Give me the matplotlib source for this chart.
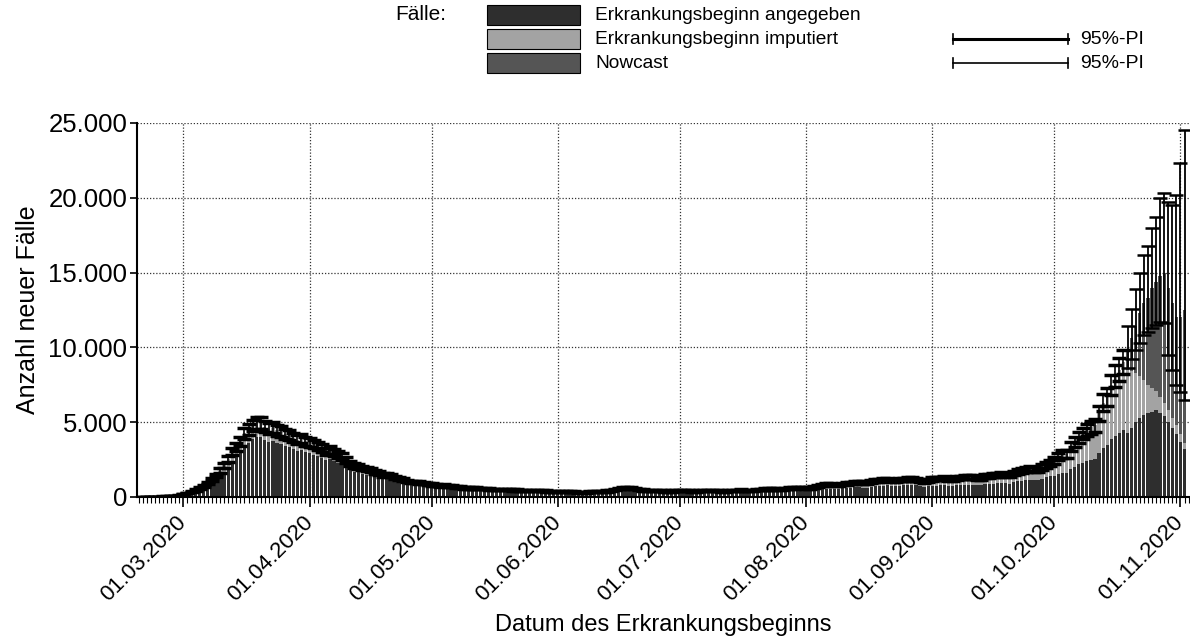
import numpy as np
import pandas as pd
import matplotlib
matplotlib.use("Agg")
import matplotlib.pyplot as plt
import matplotlib.dates as mdates
from matplotlib.patches import Rectangle
from matplotlib.lines import Line2D
from matplotlib.ticker import FuncFormatter

plt.rcParams['font.family'] = ['Liberation Sans', 'DejaVu Sans']

# Tage mit Erkrankungsbeginn 20.02.2020 - 02.11.2020
datum = pd.date_range("2020-02-20", "2020-11-02", freq="D")

# Erkrankungsbeginn angegeben (je Tag)
angegeben = [
    # Feb 20-29
    5, 8, 10, 12, 15, 20, 25, 35, 45, 60,
    # Mar
    140, 190, 260, 340, 440, 560, 700, 890, 1100, 1360, 1640, 2000, 2380, 2650, 2960, 3400,
    3640, 3850, 4000, 4020, 3780, 3670, 3740, 3590, 3520, 3400, 3330, 3180, 3070, 3140, 2990,
    # Apr
    2920, 2840, 2720, 2600, 2440, 2520, 2400, 2280, 2160, 1960, 1800, 1680, 1640, 1560, 1500,
    1440, 1360, 1260, 1180, 1200, 1140, 1060, 1000, 940, 860, 800, 810, 780, 740, 700,
    # Mai
    600, 570, 540, 560, 530, 520, 500, 470, 440, 420, 440, 430, 420, 400, 390, 370,
    350, 370, 360, 350, 340, 330, 320, 300, 320, 310, 300, 290, 290, 270, 260,
    # Jun
    250, 260, 250, 240, 240, 220, 210, 230, 240, 240, 250, 260, 280, 290, 340,
    400, 450, 460, 430, 400, 350, 330, 310, 300, 290, 280, 280, 260, 280, 280,
    # Jul
    290, 290, 290, 270, 270, 290, 290, 300, 290, 290, 270, 270, 290, 300, 310, 310,
    310, 290, 290, 330, 350, 360, 370, 370, 350, 350, 380, 410, 420, 430, 430,
    # Aug
    410, 400, 460, 500, 530, 550, 560, 540, 530, 580, 610, 630, 650, 660, 630, 620,
    690, 730, 750, 760, 770, 740, 710, 760, 780, 790, 790, 780, 740, 690, 750,
    # Sep
    740, 760, 780, 780, 740, 710, 780, 810, 820, 820, 830, 790, 780, 860, 880,
    900, 920, 940, 920, 900, 1000, 1050, 1090, 1120, 1160, 1140, 1110, 1230, 1320, 1380,
    # Okt 1-18
    1400, 1520, 1600, 1620, 1850, 2030, 2180, 2300, 2420, 2500, 2560, 2950, 3300, 3480,
    3850, 4100, 4250, 4450,
    # Okt 19 - Nov 2
    4300, 4600, 5000, 5300, 5500, 5600, 5700, 5800, 5600, 5400, 5000, 4600, 4200, 3700, 3200,
]

# Erkrankungsbeginn imputiert
imputiert = [
    3, 4, 5, 6, 8, 10, 12, 15, 20, 25,
    60, 80, 100, 130, 160, 200, 240, 290, 350, 410, 480, 560, 640, 700, 770, 850,
    890, 930, 950, 950, 910, 880, 900, 870, 850, 830, 810, 780, 750, 770, 740,
    730, 710, 680, 650, 610, 630, 600, 570, 540, 490, 450, 420, 410, 390, 380,
    360, 340, 320, 300, 300, 290, 270, 260, 240, 220, 200, 210, 200, 190, 180,
    240, 230, 220, 220, 210, 200, 190, 190, 180, 170, 170, 170, 160, 160, 150, 140,
    140, 140, 140, 140, 130, 130, 120, 120, 120, 120, 120, 120, 110, 110, 100,
    100, 110, 110, 110, 100, 100, 90, 100, 100, 110, 110, 120, 120, 130, 140,
    160, 170, 180, 170, 160, 150, 140, 140, 140, 130, 130, 120, 120, 120, 130,
    130, 140, 130, 130, 120, 130, 140, 140, 140, 130, 130, 120, 130, 140, 140, 150,
    140, 140, 130, 150, 160, 170, 180, 170, 170, 160, 180, 190, 200, 210, 200,
    210, 200, 240, 260, 270, 280, 290, 280, 270, 300, 310, 320, 330, 340, 330, 320,
    360, 370, 380, 390, 390, 380, 370, 390, 400, 410, 410, 400, 380, 360, 380,
    460, 470, 470, 480, 460, 440, 480, 490, 500, 510, 510, 490, 470, 520, 540,
    550, 560, 580, 560, 550, 620, 650, 670, 700, 720, 700, 690, 770, 830, 900,
    1050, 1180, 1250, 1280, 1500, 1670, 1820, 1950, 2080, 2150, 2240, 2650, 3000, 3220,
    3650, 4000, 4250, 4550,
    4200, 3800, 3300, 2800, 2300, 1900, 1600, 1300, 1100, 900, 800, 700, 600, 500, 400,
]

# 95%-PI (halbe Breite) der Imputation, 20.02. - 18.10.
pi_halb = [
    5, 5, 5, 6, 7, 8, 10, 12, 15, 20,
    20, 25, 30, 40, 50, 60, 75, 95, 115, 140, 170, 205, 240, 270, 300, 340,
    360, 380, 400, 400, 375, 365, 370, 355, 350, 340, 330, 315, 305, 310, 300,
    290, 280, 270, 260, 245, 250, 240, 230, 215, 195, 180, 170, 165, 155, 150,
    145, 135, 125, 120, 120, 115, 105, 100, 95, 85, 80, 80, 80, 75, 70,
    80, 75, 70, 70, 70, 65, 65, 60, 60, 55, 55, 55, 55, 50, 50, 50,
    45, 45, 45, 45, 45, 45, 40, 40, 40, 40, 40, 40, 40, 35, 35,
    35, 35, 35, 35, 35, 30, 30, 35, 35, 35, 35, 35, 40, 40, 45,
    55, 60, 60, 55, 55, 50, 45, 45, 45, 40, 40, 40, 35, 40, 40,
    40, 40, 40, 40, 40, 40, 40, 45, 40, 40, 40, 40, 40, 45, 45, 45,
    45, 40, 40, 45, 50, 50, 55, 55, 50, 50, 55, 60, 60, 60, 60,
    60, 60, 65, 70, 75, 75, 80, 75, 75, 80, 85, 85, 90, 90, 90, 85,
    95, 100, 100, 105, 105, 100, 100, 105, 105, 110, 110, 105, 100, 95, 100,
    110, 110, 115, 115, 110, 105, 115, 120, 120, 120, 120, 115, 115, 125, 130,
    130, 135, 135, 135, 130, 145, 150, 155, 160, 165, 160, 160, 175, 190, 200,
    220, 240, 260, 260, 300, 330, 360, 380, 400, 420, 430, 500, 560, 600,
    670, 720, 760, 800,
]

# Nowcast 19.10. - 02.11. mit 95%-PI
nowcast = [1300, 2200, 3100, 4200, 5200, 5800, 6700, 7300, 8100, 8700, 8200, 7700, 7200, 7800, 8900]
nowcast_pi_unten = [8600, 9200, 9800, 10300, 10800, 11000, 11300, 11500, 11700, 11600,
                    9500, 8500, 7500, 7000, 6500]
nowcast_pi_oben = [11400, 12600, 13900, 15000, 16200, 16800, 18000, 18700, 20000, 20300,
                   19700, 19500, 20200, 22300, 24500]

monate = pd.date_range("2020-03-01", "2020-11-01", freq="MS")

# ------------------------------------------------------------------
a = np.array(angegeben, dtype=float)
imp = np.array(imputiert, dtype=float)
n_pi = len(pi_halb)
n_now = len(nowcast)
now_dates = datum[-n_now:]

c_ang = "#2e2e2e"
c_imp = "#a3a3a3"
c_now = "#555555"

fig = plt.figure(figsize=(11.9, 6.42), dpi=100)
ax = fig.add_axes([137 / 1190, 1 - 497 / 642, (1189 - 137) / 1190, (497 - 123) / 642])

ax.bar(datum, a, width=0.8, color=c_ang, linewidth=0, zorder=2)
ax.bar(datum, imp, bottom=a, width=0.8, color=c_imp, linewidth=0, zorder=2)
ax.bar(now_dates, nowcast, bottom=(a + imp)[-n_now:], width=0.8, color=c_now, linewidth=0, zorder=2)

gesamt = a + imp
ax.errorbar(datum[:n_pi], gesamt[:n_pi], yerr=pi_halb, fmt='none', ecolor='black',
            elinewidth=1.2, capsize=5, capthick=2.5, zorder=3)
now_total = gesamt[-n_now:] + np.array(nowcast)
yerr_now = [now_total - np.array(nowcast_pi_unten), np.array(nowcast_pi_oben) - now_total]
ax.errorbar(now_dates, now_total, yerr=yerr_now, fmt='none', ecolor='black',
            elinewidth=1.3, capsize=5, capthick=1.8, zorder=3)

ax.set_ylim(0, 25000)
ax.set_yticks([0, 5000, 10000, 15000, 20000, 25000])
ax.yaxis.set_major_formatter(FuncFormatter(lambda v, p: f"{int(v):,}".replace(",", ".")))
ax.set_xlim(mdates.date2num(pd.Timestamp("2020-02-18")) + 0.6,
            mdates.date2num(pd.Timestamp("2020-11-03")) + 0.1)
ax.set_xticks(monate)
ax.set_xticklabels([d.strftime("%d.%m.%Y") for d in monate], rotation=45,
                   ha='right', va='center', rotation_mode='anchor')
ax.xaxis.set_minor_locator(mdates.DayLocator())
ax.tick_params(axis='x', which='major', length=7, width=1.2, labelsize=16, pad=9)
ax.tick_params(axis='x', which='minor', length=4, width=0.8)
ax.tick_params(axis='y', which='major', length=5, width=1.2, labelsize=18.5, pad=2)

ax.grid(True, which='major', color='#333333', linestyle=(0, (1, 1.5)), linewidth=0.9, zorder=0)
ax.set_axisbelow(True)
for s in ['top', 'right']:
    ax.spines[s].set_visible(False)
for s in ['left', 'bottom']:
    ax.spines[s].set_linewidth(1.5)

ax.set_xlabel("Datum des Erkrankungsbeginns", fontsize=17, labelpad=6)
ax.set_ylabel("Anzahl neuer Fälle", fontsize=18, labelpad=6)

# Legende oben (manuell)
def fx(px):
    return px / 1190

def fy(py):
    return 1 - py / 642

fig.text(fx(395), fy(15), "Fälle:", fontsize=15, va='center', ha='left')
legend_rows = [("Erkrankungsbeginn angegeben", c_ang, 15),
               ("Erkrankungsbeginn imputiert", c_imp, 39),
               ("Nowcast", c_now, 63)]
for label, col, py in legend_rows:
    fig.patches.append(Rectangle((fx(487), fy(py + 10)), fx(93), 20 / 642,
                                 transform=fig.transFigure, facecolor=col, edgecolor='black',
                                 linewidth=0.8))
    fig.text(fx(595), fy(py), label, fontsize=13.8, va='center', ha='left')

for py, lw in [(39, 2.2), (63, 1.2)]:
    fig.add_artist(Line2D([fx(953), fx(1068)], [fy(py), fy(py)], color='black', lw=lw,
                          transform=fig.transFigure))
    for ex in (953, 1068):
        fig.add_artist(Line2D([fx(ex), fx(ex)], [fy(py - 5), fy(py + 5)], color='black',
                              lw=1.2, transform=fig.transFigure))
    fig.text(fx(1080), fy(py), "95%-PI", fontsize=14, va='center', ha='left')

fig.savefig("out.png", dpi=100)
